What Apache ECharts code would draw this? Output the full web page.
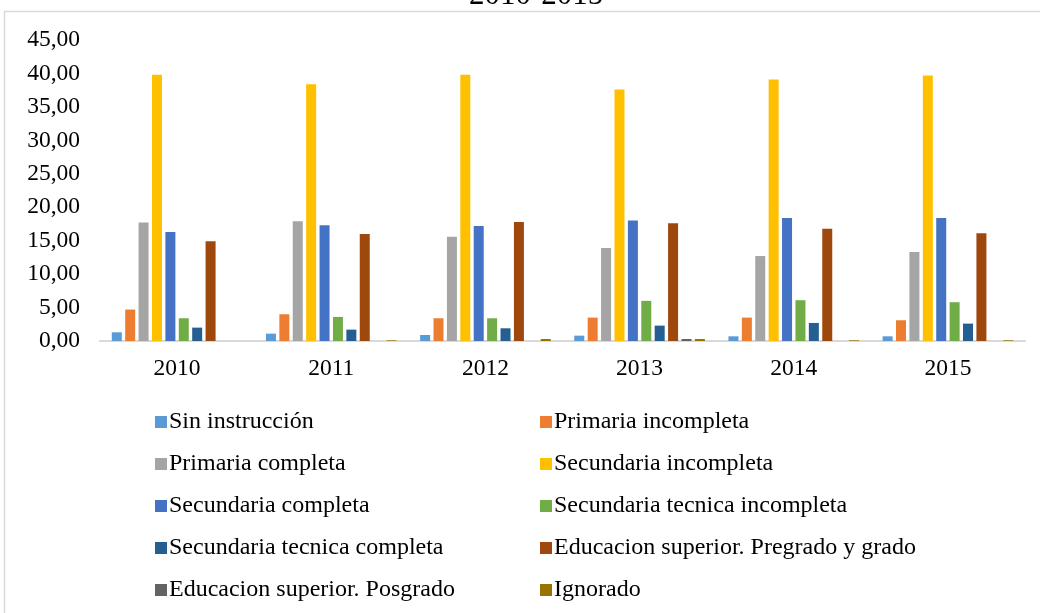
<!DOCTYPE html>
<html>
<head>
<meta charset="utf-8">
<script src="https://cdn.jsdelivr.net/npm/echarts@6/dist/echarts.min.js"></script>
<style>
  html, body { margin: 0; padding: 0; background: #fff; }
  #chart { width: 1040px; height: 613px; }
</style>
</head>
<body>
<div id="chart"></div>
<script>
var years = ['2010', '2011', '2012', '2013', '2014', '2015'];

var sinInstruccion     = [1.3, 1.1, 0.9, 0.8, 0.7, 0.7];
var primariaIncompleta = [4.7, 4.0, 3.4, 3.5, 3.5, 3.1];
var primariaCompleta   = [17.7, 17.9, 15.6, 13.9, 12.7, 13.3];
var secundariaIncomp   = [39.8, 38.4, 39.8, 37.6, 39.1, 39.7];
var secundariaCompleta = [16.3, 17.3, 17.2, 18.0, 18.4, 18.4];
var secTecIncompleta   = [3.4, 3.6, 3.4, 6.0, 6.1, 5.8];
var secTecCompleta     = [2.0, 1.7, 1.9, 2.3, 2.7, 2.6];
var eduSupPregrado     = [14.9, 16.0, 17.8, 17.6, 16.8, 16.1];
var eduSupPosgrado     = [0, 0, 0, 0.3, 0, 0];
var ignorado           = [0, 0.1, 0.3, 0.3, 0.1, 0.1];

var names = ['Sin instrucción', 'Primaria incompleta', 'Primaria completa', 'Secundaria incompleta',
  'Secundaria completa', 'Secundaria tecnica incompleta', 'Secundaria tecnica completa',
  'Educacion superior. Pregrado y grado', 'Educacion superior. Posgrado', 'Ignorado'];
var valores = [sinInstruccion, primariaIncompleta, primariaCompleta, secundariaIncomp, secundariaCompleta,
  secTecIncompleta, secTecCompleta, eduSupPregrado, eduSupPosgrado, ignorado];
var colores = ['#5B9BD5', '#ED7D31', '#A5A5A5', '#FFC000', '#4472C4', '#70AD47', '#255E91', '#9E480E', '#636363', '#997300'];

var fuente = '"Liberation Serif", "Times New Roman", serif';

var dom = document.getElementById('chart');
var myChart = echarts.init(dom);

var series = names.map(function (n, i) {
  return {
    name: n,
    type: 'bar',
    data: valores[i],
    barWidth: 10,
    barGap: '34%',
    itemStyle: { color: colores[i] },
    animation: false
  };
});

function leyenda(lista, left) {
  return {
    data: lista,
    orient: 'vertical',
    left: left,
    top: 405,
    itemWidth: 12,
    itemHeight: 12,
    itemGap: 18,
    icon: 'rect',
    textStyle: { fontFamily: fuente, fontSize: 24, color: '#000', padding: [0, 0, 3, -3] }
  };
}

var option = {
  backgroundColor: '#fff',
  color: colores,
  title: {
    text: '2010-2015',
    left: 464,
    top: -25,
    textStyle: { fontFamily: fuente, fontSize: 31, fontWeight: 'normal', color: '#000' }
  },
  graphic: [{
    type: 'rect',
    shape: { x: 4.5, y: 11.5, width: 1040, height: 620 },
    style: { fill: null, stroke: '#d9d9d9', lineWidth: 1.5 },
    silent: true
  }],
  legend: [
    leyenda([names[0], names[2], names[4], names[6], names[8]], 150),
    leyenda([names[1], names[3], names[5], names[7], names[9]], 535)
  ],
  grid: { left: 100, right: 15, top: 40, bottom: 272 },
  xAxis: {
    type: 'category',
    data: years,
    axisLine: { lineStyle: { color: '#d9d9d9', width: 2 } },
    axisTick: { show: false },
    axisLabel: { fontFamily: fuente, fontSize: 23.5, color: '#000', margin: 16 }
  },
  yAxis: {
    type: 'value',
    min: 0,
    max: 45,
    interval: 5,
    splitLine: { show: false },
    axisLine: { show: false },
    axisTick: { show: false },
    axisLabel: {
      fontFamily: fuente, fontSize: 23.5, color: '#000', margin: 20,
      formatter: function (v) { return v.toFixed(2).replace('.', ','); }
    }
  },
  series: series
};

myChart.setOption(option);
</script>
</body>
</html>
